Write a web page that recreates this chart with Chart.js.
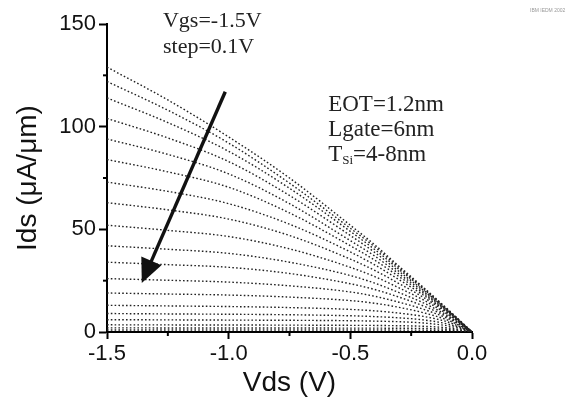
<!DOCTYPE html>
<html>
<head>
<meta charset="utf-8">
<script src="https://cdn.jsdelivr.net/npm/chart.js@4.4.0/dist/chart.umd.min.js"></script>
<style>
html, body { margin: 0; padding: 0; background: #fff; }
#wrap { width: 584px; height: 397px; }
</style>
</head>
<body>
<div id="wrap"><canvas id="myChart" width="584" height="397"></canvas></div>
<script>
// Vds sample points (V)
const vds = [-1.5, -1.25, -1.0, -0.75, -0.5, -0.4, -0.3, -0.2, -0.1, -0.05, 0];

// Ids (uA/um), one row per Vgs step, top curve first
const vgsLabels = ['-1.5', '-1.4', '-1.3', '-1.2', '-1.1', '-1.0', '-0.9', '-0.8', '-0.7', '-0.6',
                   '-0.5', '-0.4', '-0.3', '-0.2', '-0.1', '0.0', '0.1', '0.2', '0.3'];
const ids01 = [129, 113, 95, 75, 52, 42.5, 32, 21.8, 11.1, 5.6, 0];
const ids02 = [122, 108, 92, 72.5, 50.5, 41.5, 31.3, 21.4, 10.9, 5.5, 0];
const ids03 = [114, 102, 88, 70, 49, 40.2, 30.5, 21, 10.7, 5.4, 0];
const ids04 = [104, 94.5, 83, 66.5, 47, 38.8, 29.5, 20.4, 10.5, 5.3, 0];
const ids05 = [94, 86.5, 77, 62.5, 44.5, 37, 28.3, 19.7, 10.2, 5.15, 0];
const ids06 = [84, 78, 70.5, 58, 42, 35, 27, 18.9, 9.9, 5.0, 0];
const ids07 = [73, 68.5, 62.5, 52.5, 39, 32.7, 25.5, 18, 9.5, 4.8, 0];
const ids08 = [63, 59.5, 55, 47, 35.5, 30, 23.6, 16.9, 9.1, 4.6, 0];
const ids09 = [52, 49.5, 46.5, 40.5, 31.5, 27, 21.5, 15.6, 8.6, 4.4, 0];
const ids10 = [42, 40.3, 38.3, 34, 27.5, 23.8, 19.2, 14.2, 8, 4.1, 0];
const ids11 = [34, 32.8, 31.5, 28.5, 23.5, 20.7, 17, 12.7, 7.3, 3.8, 0];
const ids12 = [26, 25.2, 24.3, 22.5, 19.5, 17.4, 14.5, 11.1, 6.6, 3.45, 0];
const ids13 = [19, 18.5, 18, 17, 15.3, 14, 12, 9.4, 5.8, 3.05, 0];
const ids14 = [13, 12.7, 12.4, 11.9, 11, 10.3, 9.2, 7.6, 4.9, 2.6, 0];
const ids15 = [9, 8.8, 8.65, 8.4, 7.9, 7.5, 6.9, 5.9, 3.9, 2.15, 0];
const ids16 = [6, 5.9, 5.8, 5.7, 5.5, 5.3, 5.0, 4.4, 3.0, 1.7, 0];
const ids17 = [3.5, 3.45, 3.4, 3.35, 3.25, 3.2, 3.05, 2.8, 2.0, 1.15, 0];
const ids18 = [2, 1.98, 1.96, 1.94, 1.9, 1.88, 1.82, 1.72, 1.3, 0.78, 0];
const ids19 = [1, 0.99, 0.98, 0.97, 0.96, 0.95, 0.93, 0.89, 0.72, 0.45, 0];
const idsCurves = [ids01, ids02, ids03, ids04, ids05, ids06, ids07, ids08, ids09, ids10,
                   ids11, ids12, ids13, ids14, ids15, ids16, ids17, ids18, ids19];

// axis ticks
const xMajor = [-1.5, -1.0, -0.5, 0.0];
const xMinor = [-1.25, -0.75, -0.25];
const yMajor = [0, 50, 100, 150];
const yMinor = [25, 75, 125];

// arrow in data units (start -> tip)
const arrowFrom = { x: -1.014, y: 117 };
const arrowTo = { x: -1.357, y: 23.9 };

const sans = '"Liberation Sans", Arial, sans-serif';
const serif = '"Liberation Serif", "Times New Roman", serif';

const datasets = idsCurves.map((ys, i) => ({
  label: 'Vgs=' + vgsLabels[i] + 'V',
  data: vds.map((v, j) => ({ x: v, y: ys[j] })),
  borderColor: '#222',
  borderWidth: 1.4,
  borderDash: [1.6, 2.2],
  pointRadius: 0,
  fill: false,
  cubicInterpolationMode: 'monotone'
}));

// extra drawing: minor ticks, arrow and the notes
const overlay = {
  id: 'overlay',
  afterDraw(chart) {
    const { ctx, chartArea } = chart;
    const x = chart.scales.x, y = chart.scales.y;
    ctx.save();
    ctx.strokeStyle = '#000';
    ctx.lineWidth = 2;
    xMinor.forEach(v => {
      const px = x.getPixelForValue(v);
      ctx.beginPath(); ctx.moveTo(px, chartArea.bottom); ctx.lineTo(px, chartArea.bottom + 4); ctx.stroke();
    });
    yMinor.forEach(v => {
      const py = y.getPixelForValue(v);
      ctx.beginPath(); ctx.moveTo(chartArea.left, py); ctx.lineTo(chartArea.left - 4, py); ctx.stroke();
    });

    // arrow
    const x0 = x.getPixelForValue(arrowFrom.x), y0 = y.getPixelForValue(arrowFrom.y);
    const x1 = x.getPixelForValue(arrowTo.x), y1 = y.getPixelForValue(arrowTo.y);
    const ang = Math.atan2(y1 - y0, x1 - x0);
    const headLen = 24, headW = 11;
    const bx = x1 - headLen * Math.cos(ang), by = y1 - headLen * Math.sin(ang);
    ctx.lineWidth = 3.4;
    ctx.strokeStyle = '#111';
    ctx.beginPath(); ctx.moveTo(x0, y0); ctx.lineTo(bx + 4 * Math.cos(ang), by + 4 * Math.sin(ang)); ctx.stroke();
    ctx.fillStyle = '#111';
    ctx.beginPath();
    ctx.moveTo(x1, y1);
    ctx.lineTo(bx + headW * Math.sin(ang), by - headW * Math.cos(ang));
    ctx.lineTo(bx - headW * Math.sin(ang), by + headW * Math.cos(ang));
    ctx.closePath();
    ctx.fill();

    // notes
    ctx.fillStyle = '#222';
    ctx.textBaseline = 'alphabetic';
    ctx.textAlign = 'left';
    ctx.font = '22px ' + serif;
    ctx.fillText('Vgs=-1.5V', x.getPixelForValue(-1.27), y.getPixelForValue(148.6));
    ctx.fillText('step=0.1V', x.getPixelForValue(-1.27), y.getPixelForValue(135.9));
    ctx.font = '23px ' + serif;
    const nx = x.getPixelForValue(-0.591);
    ctx.fillText('EOT=1.2nm', nx, y.getPixelForValue(107.6));
    ctx.fillText('Lgate=6nm', nx, y.getPixelForValue(95.5));
    const ty = y.getPixelForValue(83.3);
    ctx.fillText('T', nx, ty);
    let w = ctx.measureText('T').width;
    ctx.font = '13px ' + serif;
    ctx.fillText('Si', nx + w, ty + 3);
    const w2 = ctx.measureText('Si').width;
    ctx.font = '23px ' + serif;
    ctx.fillText('=4-8nm', nx + w + w2, ty);

    // source mark, top right
    ctx.fillStyle = '#999';
    ctx.font = '5px ' + sans;
    ctx.fillText('IBM IEDM 2002', chartArea.right + 58, 12);
    ctx.restore();
  }
};

new Chart(document.getElementById('myChart'), {
  type: 'line',
  data: { datasets: datasets },
  options: {
    responsive: false,
    animation: false,
    layout: { padding: { left: 0, right: 112, top: 24, bottom: 0 } },
    plugins: { legend: { display: false }, tooltip: { enabled: false } },
    scales: {
      x: {
        type: 'linear',
        min: -1.5,
        max: 0,
        afterFit: s => { s.height = 65; },
        afterBuildTicks: s => { s.ticks = xMajor.map(v => ({ value: v })); },
        ticks: {
          color: '#111',
          font: { family: sans, size: 22 },
          padding: 2,
          maxRotation: 0,
          callback: v => v.toFixed(1)
        },
        grid: { drawOnChartArea: false, drawTicks: true, tickLength: 7, tickColor: '#000', tickWidth: 2 },
        border: { color: '#000', width: 2 },
        title: {
          display: true,
          text: 'Vds (V)',
          color: '#111',
          font: { family: sans, size: 28, lineHeight: 1 },
          padding: { top: 0, bottom: 0 }
        }
      },
      y: {
        type: 'linear',
        min: 0,
        max: 150,
        afterFit: s => { s.width = 107; },
        afterBuildTicks: s => { s.ticks = yMajor.map(v => ({ value: v })); },
        ticks: {
          color: '#111',
          font: { family: sans, size: 22 },
          padding: 3
        },
        grid: { drawOnChartArea: false, drawTicks: true, tickLength: 8, tickColor: '#000', tickWidth: 2 },
        border: { color: '#000', width: 2 },
        title: {
          display: true,
          text: 'Ids (μA/μm)',
          color: '#111',
          font: { family: sans, size: 28, lineHeight: 1 },
          padding: { top: 14, bottom: 0 }
        }
      }
    }
  },
  plugins: [overlay]
});
</script>
</body>
</html>
